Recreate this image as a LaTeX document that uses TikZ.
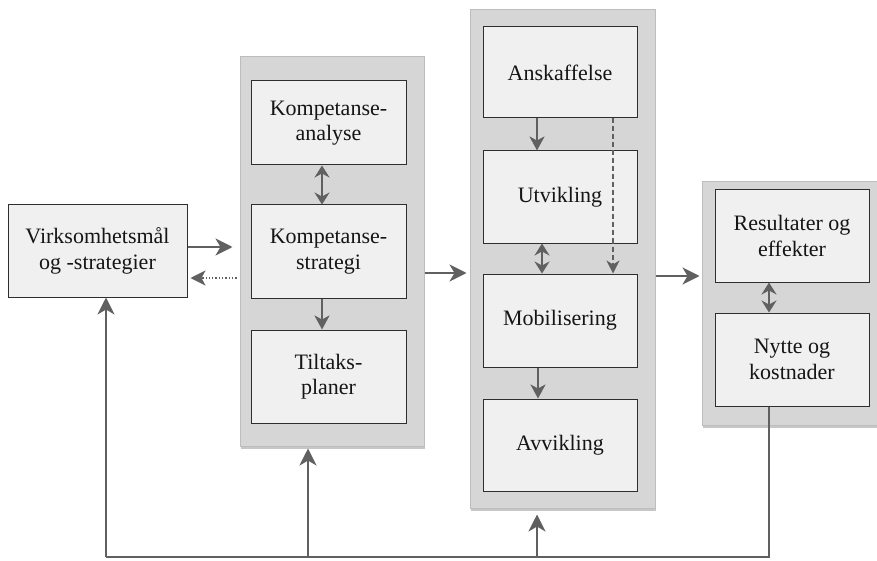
\documentclass[tikz,border=0pt]{standalone}
\usepackage{fontspec}
\setmainfont{Liberation Serif}
\usetikzlibrary{arrows.meta,shadows}

\definecolor{arrowgray}{HTML}{606060}
\definecolor{panelfill}{HTML}{D6D6D6}
\definecolor{paneledge}{HTML}{BDBDBD}
\definecolor{boxfill}{HTML}{F0F0F0}
\definecolor{boxedge}{HTML}{2E2E2E}
\definecolor{textcol}{HTML}{151515}

\tikzset{
  panel/.style={draw=paneledge, fill=panelfill, line width=1pt, inner sep=0pt,
    drop shadow={shadow xshift=1pt, shadow yshift=-3pt, opacity=0.22, fill=black}},
  stagebox/.style={draw=boxedge, fill=boxfill, line width=1pt, align=center,
    inner sep=0pt, text=textcol, font=\fontsize{22}{25.5}\selectfont},
  bigtip/.style={-{Stealth[length=17pt,width=17pt,inset=5pt]}},
  conn/.style={draw=arrowgray, line width=2.4pt, bigtip},
  innerconn/.style={draw=arrowgray, line width=2.4pt,
    -{Stealth[length=14pt,width=15pt,inset=4pt]}},
  bothconn/.style={draw=arrowgray, line width=2.4pt,
    {Stealth[length=12pt,width=15pt,inset=4pt]}-{Stealth[length=12pt,width=15pt,inset=4pt]}},
  dashconn/.style={draw=arrowgray, line width=1.2pt, dash pattern=on 5pt off 3pt,
    -{Stealth[length=13pt,width=13pt,inset=4pt]}},
  dotconn/.style={draw=arrowgray, line width=1.3pt, dotted,
    -{Stealth[length=15pt,width=15pt,inset=4pt]}},
  feedline/.style={draw=arrowgray, line width=2.4pt}
}

\begin{document}
\begin{tikzpicture}[x=1pt,y=-1pt]
\useasboundingbox (0,0) rectangle (877,561);

% grouping panels
\node[panel, minimum width=184pt, minimum height=389pt] (P2) at (332,251.5) {};
\node[panel, minimum width=185pt, minimum height=498pt] (P3) at (562.5,259) {};
\node[panel, minimum width=175pt, minimum height=243pt] (P4) at (789.5,303.5) {};

% stages
\node[stagebox, minimum width=179pt, minimum height=92pt] (L) at (97.5,251) {Virksomhetsmål\\og -strategier};

\node[stagebox, minimum width=155pt, minimum height=84pt] (K1) at (328.5,123) {Kompetanse-\\analyse};
\node[stagebox, minimum width=155pt, minimum height=93pt] (K2) at (328.5,251.5) {Kompetanse-\\strategi};
\node[stagebox, minimum width=155pt, minimum height=93pt] (K3) at (328.5,376.5) {Tiltaks-\\planer};

\node[stagebox, minimum width=154pt, minimum height=91pt] (A) at (560,72.5) {Anskaffelse};
\node[stagebox, minimum width=154pt, minimum height=92pt] (U) at (560,197) {Utvikling};
\node[stagebox, minimum width=154pt, minimum height=93pt] (M) at (560,320.5) {Mobilisering};
\node[stagebox, minimum width=154pt, minimum height=92pt] (V) at (560,445) {Avvikling};

\node[stagebox, minimum width=154pt, minimum height=92pt] (R) at (792,236) {Resultater og\\effekter};
\node[stagebox, minimum width=154pt, minimum height=93pt] (N) at (792,359.5) {Nytte og\\kostnader};

% flow between groups
\draw[conn, shorten >=7pt] (L.east |- 0,247) -- (P2.west |- 0,247);
\draw[dotconn, shorten <=3pt, shorten >=3pt] (P2.west |- 0,278) -- (L.east |- 0,278);
\draw[conn, shorten >=3pt] (P2.east |- 0,273) -- (P3.west |- 0,273);
\draw[conn, shorten >=2pt] (P3.east |- 0,276) -- (P4.west |- 0,276);

% links inside the groups
\draw[bothconn] (K1.south -| 322,0) -- (K2.north -| 322,0);
\draw[innerconn] (K2.south -| 322,0) -- (K3.north -| 322,0);

\draw[innerconn] (A.south -| 537,0) -- (U.north -| 537,0);
\draw[bothconn] (U.south -| 542,0) -- (M.north -| 542,0);
\draw[dashconn] (A.south -| 613,0) -- (M.north -| 613,0);
\draw[innerconn] (M.south -| 538,0) -- (V.north -| 538,0);

\draw[bothconn] (R.south -| 769,0) -- (N.north -| 769,0);

% feedback loop along the bottom
\coordinate (fbR) at (769,557);
\coordinate (fbL) at (106,557);
\coordinate (fb2) at (308,557);
\coordinate (fb3) at (537,557);
\draw[feedline] (N.south -| fbR) -- (fbR) -- (fbL);
\draw[conn] (fbL) -- (L.south -| fbL);
\draw[conn, shorten >=2pt] (fb2) -- (P2.south -| fb2);
\draw[conn, shorten >=6pt] (fb3) -- (P3.south -| fb3);
\end{tikzpicture}
\end{document}
